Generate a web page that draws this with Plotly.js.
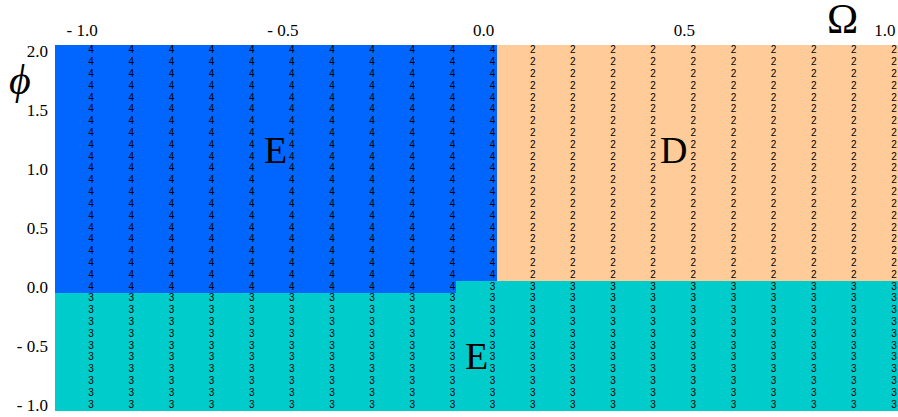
<!DOCTYPE html>
<html>
<head>
<meta charset="utf-8">
<script src="https://cdn.plot.ly/plotly-3.0.1.min.js"></script>
<style>
  html, body { margin: 0; padding: 0; background: #fff; }
  #chart { width: 898px; height: 417px; }
</style>
</head>
<body>
<div id="chart"></div>
<script>
// Sample grid (Omega across, phi down)
const omega = [-1.0, -0.9, -0.8, -0.7, -0.6, -0.5, -0.4, -0.3, -0.2, -0.1, 0.0,
               0.1, 0.2, 0.3, 0.4, 0.5, 0.6, 0.7, 0.8, 0.9, 1.0];
const phi = [2.0, 1.9, 1.8, 1.7, 1.6, 1.5, 1.4, 1.3, 1.2, 1.1, 1.0,
             0.9, 0.8, 0.7, 0.6, 0.5, 0.4, 0.3, 0.2, 0.1, 0.0,
             -0.1, -0.2, -0.3, -0.4, -0.5, -0.6, -0.7, -0.8, -0.9, -1.0];

// Region code at every (phi, Omega) sample, one string per phi row
const regionRows = [
  "444444444442222222222", // 2.0
  "444444444442222222222", // 1.9
  "444444444442222222222", // 1.8
  "444444444442222222222", // 1.7
  "444444444442222222222", // 1.6
  "444444444442222222222", // 1.5
  "444444444442222222222", // 1.4
  "444444444442222222222", // 1.3
  "444444444442222222222", // 1.2
  "444444444442222222222", // 1.1
  "444444444442222222222", // 1.0
  "444444444442222222222", // 0.9
  "444444444442222222222", // 0.8
  "444444444442222222222", // 0.7
  "444444444442222222222", // 0.6
  "444444444442222222222", // 0.5
  "444444444442222222222", // 0.4
  "444444444442222222222", // 0.3
  "444444444442222222222", // 0.2
  "444444444442222222222", // 0.1
  "444444444433333333333", // 0.0
  "333333333333333333333", // -0.1
  "333333333333333333333", // -0.2
  "333333333333333333333", // -0.3
  "333333333333333333333", // -0.4
  "333333333333333333333", // -0.5
  "333333333333333333333", // -0.6
  "333333333333333333333", // -0.7
  "333333333333333333333", // -0.8
  "333333333333333333333", // -0.9
  "333333333333333333333"  // -1.0
];

const regionCodes = [2, 3, 4];
const regionColors = ['#FFCC99', '#00CCCC', '#0066FF'];

const xTickVals = [-1.0, -0.5, 0.0, 0.5, 1.0];
const xTickText = ['- 1.0', '- 0.5', '0.0', '0.5', '1.0'];
const yTickVals = [2.0, 1.5, 1.0, 0.5, 0.0, -0.5, -1.0];
const yTickText = ['2.0', '1.5', '1.0', '0.5', '0.0', '- 0.5', '- 1.0'];

// Big region names
const regionNames = ['E', 'D', 'E'];
const regionNameOmega = [-0.54, 0.45, -0.04];
const regionNamePhi = [1.16, 1.16, -0.58];

// ---- build traces ----
const z = regionRows.map(r => r.split('').map(Number));
const cellShift = -0.04; // sample sits near the right side of its coloured cell

const heat = {
  type: 'heatmap',
  x: omega.map(o => o + cellShift),
  y: phi,
  z: z,
  zmin: 2, zmax: 4,
  colorscale: [[0, regionColors[0]], [0.5, regionColors[1]], [1, regionColors[2]]],
  showscale: false,
  hoverinfo: 'skip',
  xgap: 0, ygap: 0
};

const tx = [], ty = [], tt = [];
phi.forEach((p, j) => {
  omega.forEach((o, i) => {
    tx.push(o); ty.push(p); tt.push(String(z[j][i]));
  });
});

const labels = {
  type: 'scatter',
  mode: 'text',
  x: tx, y: ty, text: tt,
  textposition: 'middle center',
  textfont: { family: 'Liberation Sans, Arial, sans-serif', size: 10, color: '#000' },
  hoverinfo: 'skip',
  cliponaxis: true,
  showlegend: false
};

const serif = 'Liberation Serif, Times New Roman, serif';

const annotations = regionNames.map((n, k) => ({
  x: regionNameOmega[k], y: regionNamePhi[k], xref: 'x', yref: 'y',
  xanchor: 'center', yanchor: 'middle',
  text: n, showarrow: false,
  font: { family: serif, size: 38, color: '#000' }
}));
annotations.push({
  x: 0.9336, y: 1.071, xref: 'paper', yref: 'paper',
  xanchor: 'center', yanchor: 'middle',
  text: '\u03A9', showarrow: false,
  font: { family: serif, size: 42, color: '#000' }
});
annotations.push({
  x: -0.0415, y: 0.904, xref: 'paper', yref: 'paper',
  xanchor: 'center', yanchor: 'middle',
  text: '<i>\u03D5</i>', showarrow: false,
  font: { family: serif, size: 42, color: '#000' }
});

const layout = {
  width: 898, height: 417,
  margin: { l: 55, r: 0, t: 45, b: 6, pad: 0 },
  paper_bgcolor: '#fff', plot_bgcolor: '#fff',
  showlegend: false,
  xaxis: {
    side: 'top', range: [-1.09, 1.01],
    tickmode: 'array', tickvals: xTickVals, ticktext: xTickText,
    showgrid: false, zeroline: false, showline: false, ticks: '',
    ticklabelshift: -9, ticklabelstandoff: 5,
    tickfont: { family: serif, size: 17, color: '#000' },
    fixedrange: true
  },
  yaxis: {
    range: [-1.05, 2.05],
    tickmode: 'array', tickvals: yTickVals, ticktext: yTickText,
    showgrid: false, zeroline: false, showline: false, ticks: '',
    ticklabelstandoff: 6,
    tickfont: { family: serif, size: 17, color: '#000' },
    fixedrange: true
  },
  annotations: annotations
};

Plotly.newPlot('chart', [heat, labels], layout, { displayModeBar: false, staticPlot: true });
</script>
</body>
</html>
